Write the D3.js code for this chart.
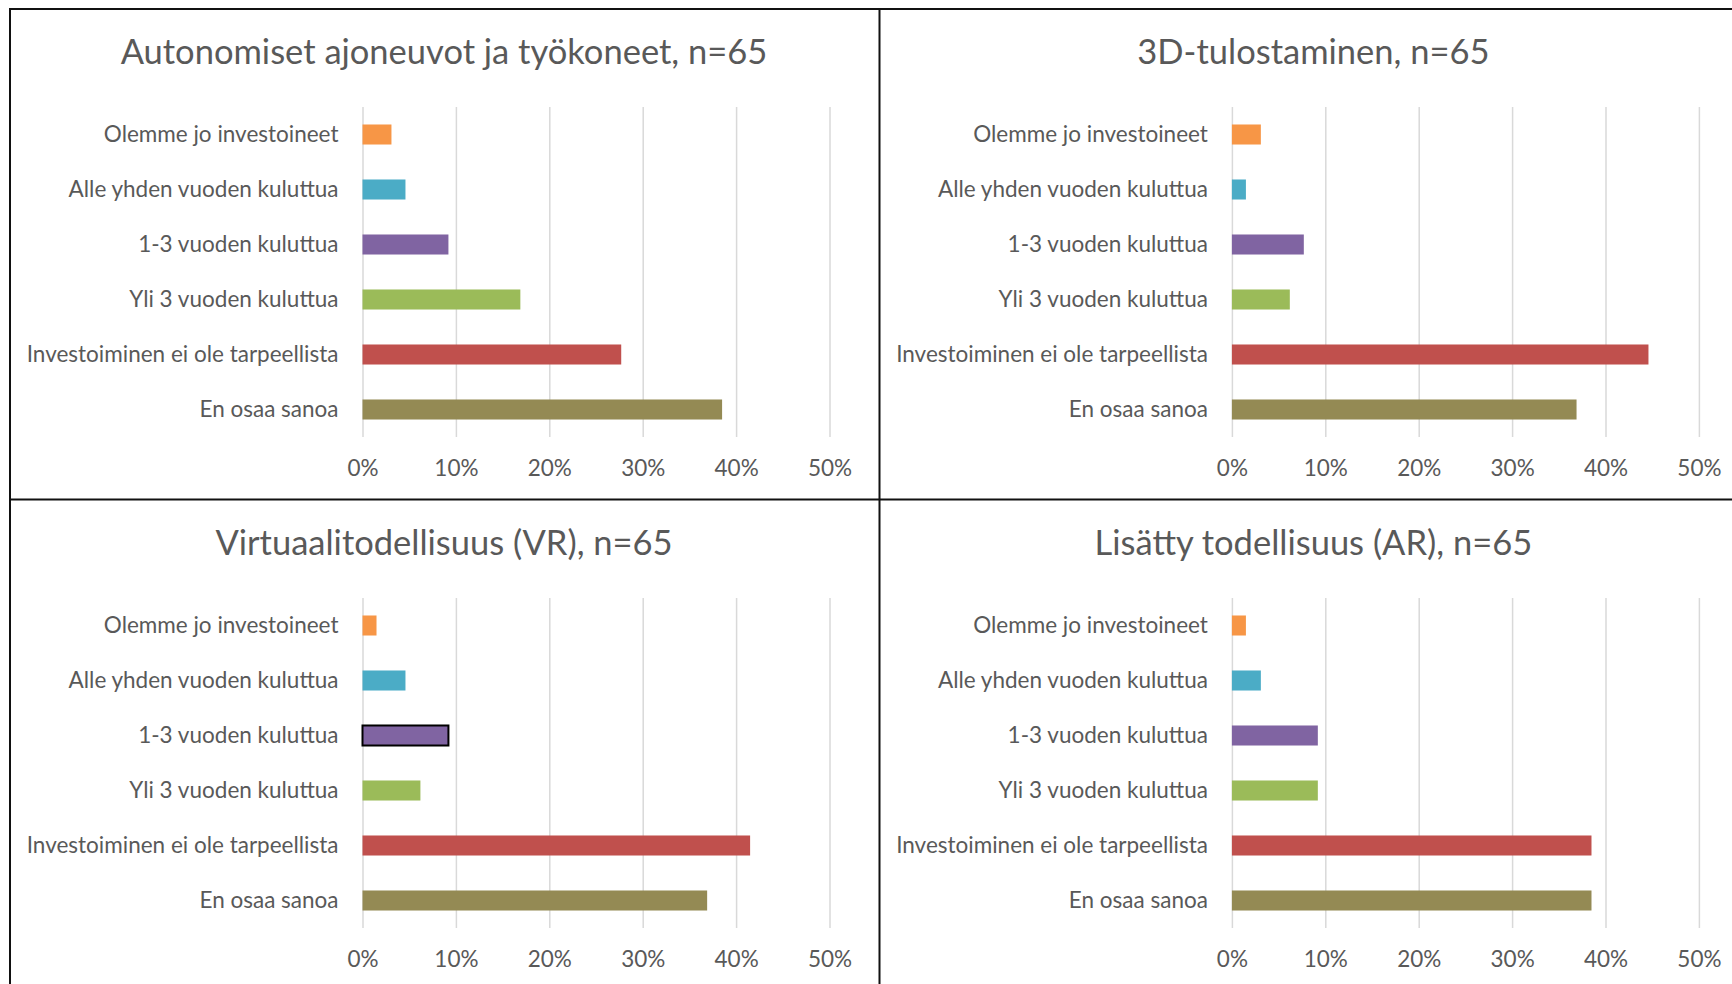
<!DOCTYPE html>
<html>
<head>
<meta charset="utf-8">
<script src="https://cdn.jsdelivr.net/npm/d3@7"></script>
<style>
  body { margin: 0; background: #fff; }
  svg { display: block; }
  .tick text { fill: #595959; font-family: Lato, "Open Sans", sans-serif; }
  .title { fill: #595959; font-family: Lato, "Open Sans", sans-serif; }
</style>
</head>
<body>
<svg id="chart" width="1732" height="984"></svg>
<script>
var width = 1732;
var height = 984;

// answer categories, top to bottom
var categories = [
    "Olemme jo investoineet",
    "Alle yhden vuoden kuluttua",
    "1-3 vuoden kuluttua",
    "Yli 3 vuoden kuluttua",
    "Investoiminen ei ole tarpeellista",
    "En osaa sanoa"
];
var barColors = ["#F79646", "#4BACC6", "#8064A2", "#9BBB59", "#C0504D", "#948A54"];

var titles = [
    "Autonomiset ajoneuvot ja työkoneet, n=65",
    "3D-tulostaminen, n=65",
    "Virtuaalitodellisuus (VR), n=65",
    "Lisätty todellisuus (AR), n=65"
];

// shares in percent (n=65)
var autonomous = [3.1, 4.6, 9.2, 16.9, 27.7, 38.5];
var printing3d = [3.1, 1.5, 7.7, 6.2, 44.6, 36.9];
var virtualReality = [1.5, 4.6, 9.2, 6.2, 41.5, 36.9];
var augmentedReality = [1.5, 3.1, 9.2, 9.2, 38.5, 38.5];

var xTicks = [0, 10, 20, 30, 40, 50];

var panels = [autonomous, printing3d, virtualReality, augmentedReality];
var offsets = [[0, 0], [869.4, 0], [0, 491], [869.4, 491]];

var svg = d3.select("#chart");

// Plot area inside each panel
var plot = { l: 362.5, r: 829.5, t: 107, b: 437 };

var xScale = d3.scaleLinear().domain([0, 50]).range([plot.l, plot.r]);
var yScale = d3.scaleBand()
    .domain(categories)
    .range([plot.t, plot.b])
    .paddingInner(0.636)
    .paddingOuter(0.318);

panels.forEach(function (values, p) {
    var g = svg.append("g")
        .attr("class", "panel")
        .attr("transform", "translate(" + offsets[p][0] + "," + offsets[p][1] + ")");

    g.append("text")
        .attr("class", "title")
        .attr("x", 444)
        .attr("y", 64)
        .attr("text-anchor", "middle")
        .style("font-size", "34.5px")
        .text(titles[p]);

    // gridlines + percent labels
    var xAxis = d3.axisBottom(xScale)
        .tickValues(xTicks)
        .tickFormat(d => d + "%")
        .tickSizeInner(-(plot.b - plot.t))
        .tickSizeOuter(0)
        .tickPadding(23);

    var xg = g.append("g")
        .attr("transform", "translate(0," + plot.b + ")")
        .call(xAxis);
    xg.select(".domain").remove();
    xg.selectAll("line").attr("stroke", "#D9D9D9").attr("stroke-width", 1.5);
    xg.selectAll("text").style("font-size", "22.5px");

    // category labels
    var yAxis = d3.axisLeft(yScale).tickSize(0).tickPadding(24);
    var yg = g.append("g")
        .attr("transform", "translate(" + plot.l + ",0)")
        .call(yAxis);
    yg.select(".domain").remove();
    yg.selectAll("text").style("font-size", "22.5px");

    var rows = categories.map((c, i) => ({ cat: c, value: values[i], color: barColors[i] }));

    g.selectAll(".bar")
        .data(rows)
        .enter()
        .append("rect")
        .attr("class", "bar")
        .attr("x", xScale(0))
        .attr("y", d => yScale(d.cat))
        .attr("width", d => xScale(d.value) - xScale(0))
        .attr("height", yScale.bandwidth())
        .attr("fill", d => d.color)
        // the VR "1-3 vuoden" bar is outlined (selected) in the original
        .attr("stroke", (d, i) => (p === 2 && i === 2) ? "#000" : null)
        .attr("stroke-width", (d, i) => (p === 2 && i === 2) ? 2 : null);
});

// frame and dividers
var frame = svg.append("g").attr("stroke", "#111").attr("stroke-width", 2);
frame.append("line").attr("x1", 9).attr("x2", width).attr("y1", 9).attr("y2", 9);
frame.append("line").attr("x1", 10).attr("x2", 10).attr("y1", 8).attr("y2", height);
frame.append("line").attr("x1", 879.5).attr("x2", 879.5).attr("y1", 9).attr("y2", height);
frame.append("line").attr("x1", 10).attr("x2", width).attr("y1", 499.5).attr("y2", 499.5);
</script>
</body>
</html>
